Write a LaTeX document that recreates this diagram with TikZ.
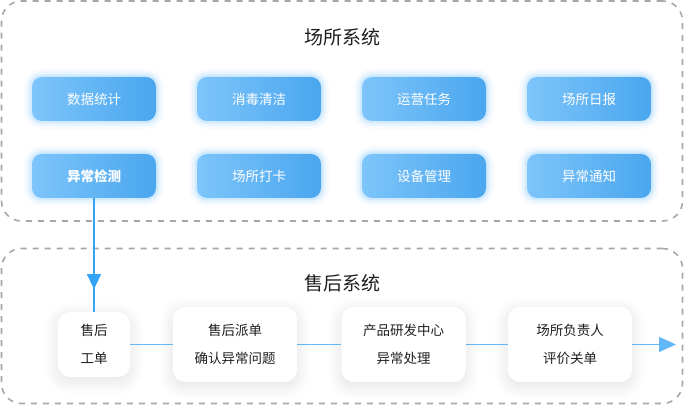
\documentclass[tikz,border=0pt]{standalone}
\usepackage{fontspec}
\setmainfont{Noto Sans CJK SC}
\usetikzlibrary{arrows.meta}
\usetikzlibrary{positioning}
\usetikzlibrary{shadows.blur}
\usetikzlibrary{decorations.markings}
\definecolor{boxlight}{HTML}{7DC5FB}
\definecolor{boxdark}{HTML}{4AA6EE}
\definecolor{glowblue}{HTML}{5AB4F7}
\definecolor{linkblue}{HTML}{62B8F7}
\definecolor{arrowblue}{HTML}{35A4F6}
\definecolor{framegray}{HTML}{A7A7AB}
\tikzset{
	group/.style={rectangle, draw=framegray, dash pattern=on 6pt off 6pt,
		line width=1.6pt, rounded corners=20pt},
	heading/.style={font=\fontsize{19pt}{22pt}\selectfont, text=black!88},
	module/.style={rectangle, rounded corners=10pt, minimum width=124pt,
		minimum height=44pt, left color=boxlight, right color=boxdark,
		text=white, font=\fontsize{13.5pt}{16pt}\selectfont,
		preaction={draw=glowblue, line width=16pt, draw opacity=0.05},
		preaction={draw=glowblue, line width=10pt, draw opacity=0.09},
		preaction={draw=glowblue, line width=5pt, draw opacity=0.16}},
	stage/.style={rectangle, rounded corners=12pt, fill=white,
		minimum width=124pt, minimum height=75pt, align=center,
		text=black!88, font=\fontsize{13.5pt}{28pt}\selectfont,
		blur shadow={shadow xshift=0pt, shadow yshift=-4pt,
			shadow blur radius=14pt, shadow blur steps=12, shadow opacity=12}},
	link/.style={draw=linkblue, line width=1.5pt},
	arrow/.style={draw=arrowblue, line width=1.8pt}
}

\begin{document}
\begin{tikzpicture}[x=1pt, y=1pt, node distance=165pt]

\useasboundingbox (0,0) rectangle (684,406);

% the two systems
\node[group, minimum width=681pt, minimum height=220pt] (site) at (342,295) {};
\node[group, minimum width=681pt, minimum height=155pt] (service) at (342,80) {};

\node[heading] (sitetitle) at (342,369) {场所系统};
\node[heading] (servicetitle) at (342,123) {售后系统};

% site modules
\node[module] (stat) at (94,307) {数据统计};
\node[module, right of = stat] (clean) {消毒清洁};
\node[module, right of = clean] (task) {运营任务};
\node[module, right of = task] (daily) {场所日报};

\node[module, below of = stat, node distance=77pt,
	font=\fontsize{13.5pt}{16pt}\selectfont\bfseries] (detect) {异常检测};
\node[module, right of = detect] (punch) {场所打卡};
\node[module, right of = punch] (device) {设备管理};
\node[module, right of = device] (notice) {异常通知};

% after-sales flow
\node[stage, below of = detect, node distance=168.5pt,
	minimum width=72pt, minimum height=65pt] (ticket) {售后\\工单};
\node[stage] (dispatch) at (235,61.5) {售后派单\\确认异常问题};
\node[stage] (rnd) at (403.5,61.5) {产品研发中心\\异常处理};
\node[stage] (review) at (570,61.5) {场所负责人\\评价关单};
\coordinate (out) at (676,61.5);


\draw [arrow, postaction={decorate}, decoration={markings,
	mark=at position 0.8 with {\arrow{Triangle[width=14pt, length=15pt, color=arrowblue]}}}]
	(detect) -- (ticket);

\draw [link] (ticket) -- (dispatch);
\draw [link] (dispatch) -- (rnd);
\draw [link] (rnd) -- (review);
\draw [link, -{Triangle[width=15pt, length=17pt]}] (review) -- (out);

\end{tikzpicture}
\end{document}
